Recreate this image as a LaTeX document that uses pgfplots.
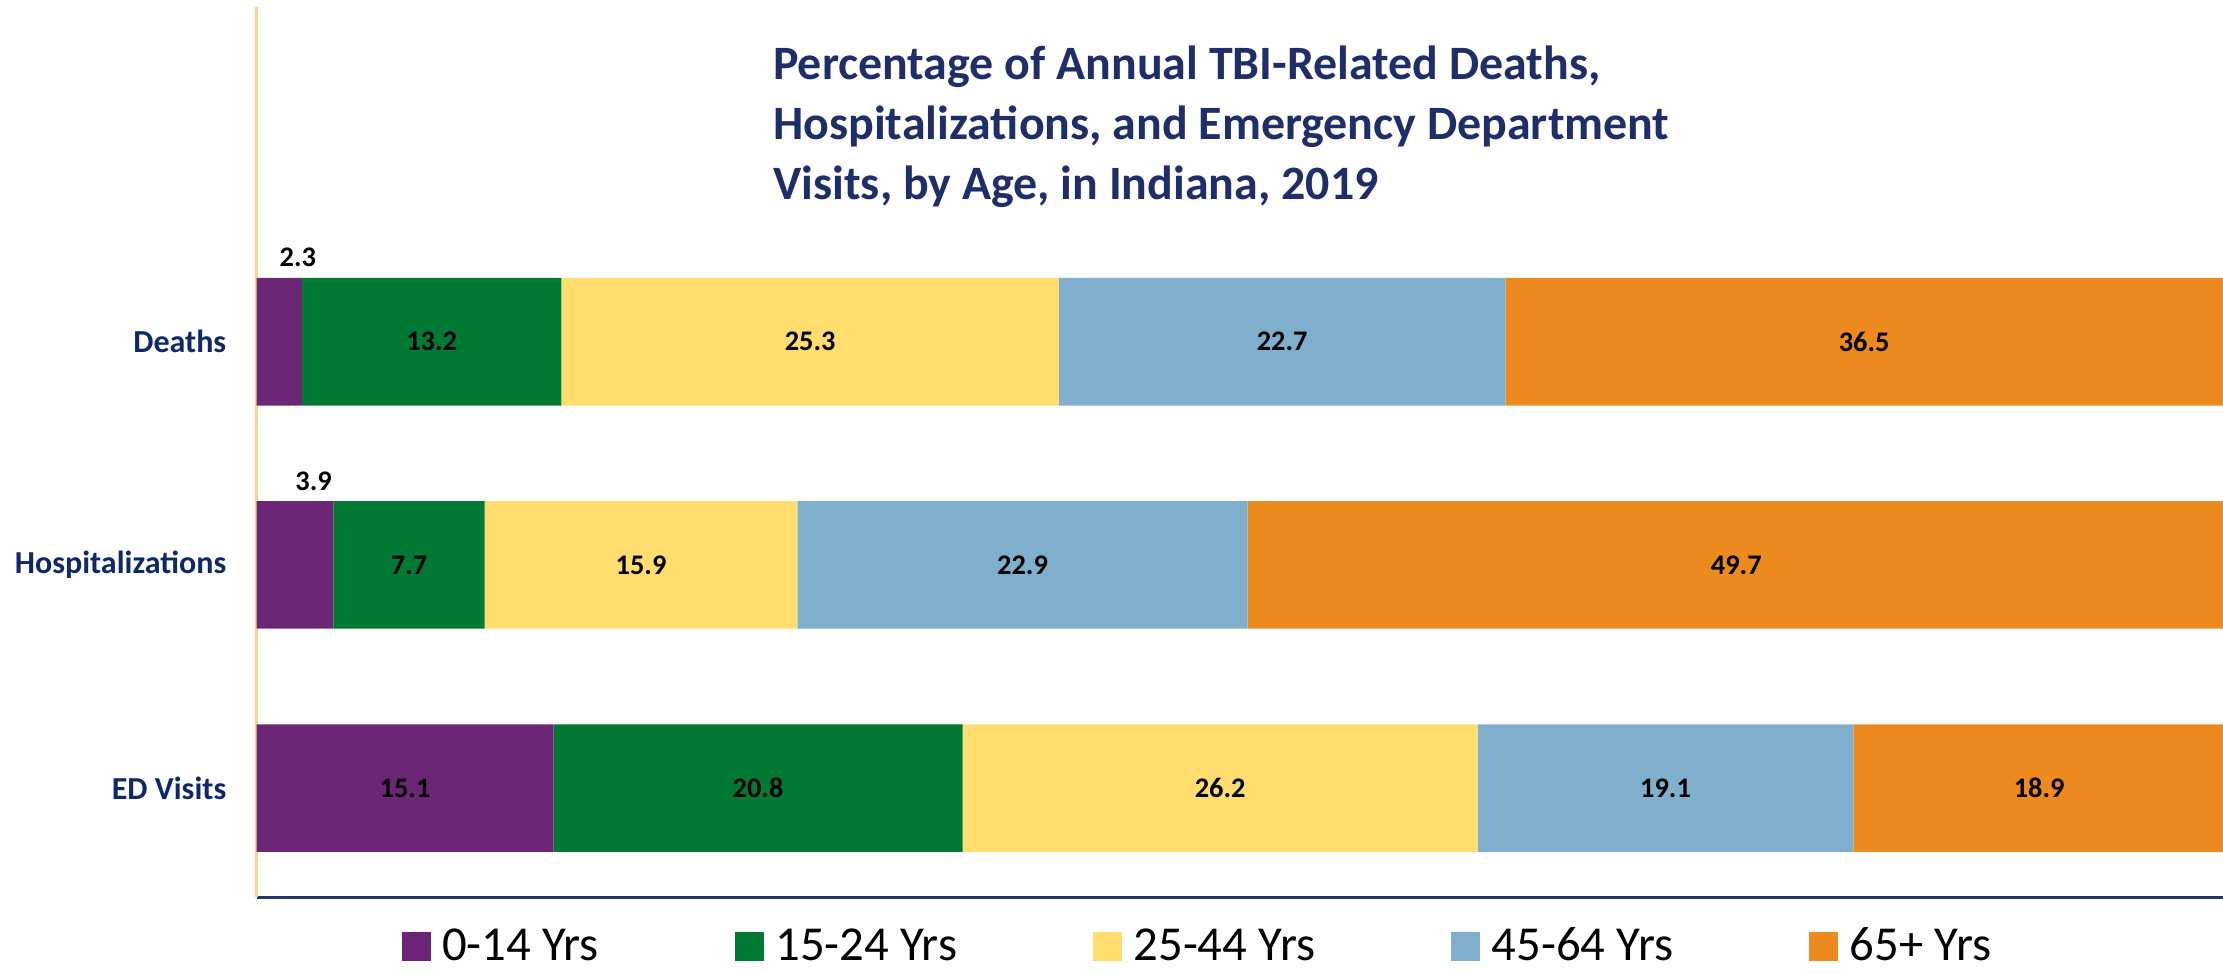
\documentclass[border=0pt]{standalone}
\usepackage{fontspec}
\setmainfont{Carlito}
\usepackage{pgfplots}
\usepackage{pgfplotstable}
\pgfplotsset{compat=1.18}

\definecolor{agea}{HTML}{6B2675}
\definecolor{ageb}{HTML}{007934}
\definecolor{agec}{HTML}{FFDD6E}
\definecolor{aged}{HTML}{7FAFCC}
\definecolor{agee}{HTML}{EC891F}
\definecolor{titlenavy}{HTML}{1F2D69}
\definecolor{catnavy}{HTML}{0E2868}
\definecolor{baseline}{HTML}{203864}
\definecolor{yline}{HTML}{FBD38E}

% cat: 0 = ED Visits, 1 = Hospitalizations, 2 = Deaths
\pgfplotstableread{
cat a    b    c    d    e
0   15.1 20.8 26.2 19.1 18.9
1   3.9  7.7  15.9 22.9 49.7
2   2.3  13.2 25.3 22.7 36.5
}\agedata

\pgfplotsset{
  sqlegend/.style={legend image code/.code={\fill[##1] (0pt,-5.1pt) rectangle (10.25pt,5.1pt);}},
  samebox/.style={scale only axis, width=693.5pt, height=314pt,
    xmin=0, xmax=100, ymin=-0.49, ymax=3.5},
}

\begin{document}
\begin{tikzpicture}
  \path[use as bounding box] (-90.5pt,-26.5pt) rectangle (693.5pt,316.5pt);
  \begin{axis}[
    samebox,
    xbar stacked,
    bar width=45pt,
    axis x line*=bottom,
    axis y line*=left,
    x axis line style={draw=baseline, line width=1.3pt, -},
    y axis line style={draw=yline, line width=0.8pt, -},
    xtick=\empty,
    ytick={0,1,2},
    yticklabels={ED Visits,Hospitalizations,Deaths},
    major tick length=0pt,
    yticklabel style={font=\bfseries\fontsize{11.3}{13}\selectfont,
      text=catnavy, inner sep=0pt, xshift=-10.5pt},
    legend columns=5,
    legend style={draw=none, fill=none, inner xsep=0pt, inner ysep=0pt,
      at={(axis description cs:0.0735,-0.055)}, anchor=west,
      font=\fontsize{17.2}{20}\selectfont,
      /tikz/every odd column/.append style={column sep=2pt},
      /tikz/every even column/.append style={column sep=46pt}},
  ]
    \addplot[fill=agea, draw=none, sqlegend] table[x=a, y=cat] {\agedata};
    \addplot[fill=ageb, draw=none, sqlegend] table[x=b, y=cat] {\agedata};
    \addplot[fill=agec, draw=none, sqlegend] table[x=c, y=cat] {\agedata};
    \addplot[fill=aged, draw=none, sqlegend] table[x=d, y=cat] {\agedata};
    \addplot[fill=agee, draw=none, sqlegend] table[x=e, y=cat] {\agedata};
    \legend{0-14 Yrs,15-24 Yrs,25-44 Yrs,45-64 Yrs,65+ Yrs}
  \end{axis}
  % value labels, centred on each segment (small ones sit above the bar)
  \begin{axis}[
    samebox, hide axis,
    point meta=explicit symbolic,
    nodes near coords={\pgfplotspointmeta},
    every node near coord/.style={anchor=center, text=black,
      font=\bfseries\fontsize{10}{12}\selectfont},
  ]
    \addplot[draw=none] table[x expr={\thisrow{a}/2+(\thisrow{a}<5)*0.95},
      y expr={\thisrow{cat}+(\thisrow{a}<5)*0.377}, meta=a] {\agedata};
    \addplot[draw=none] table[x expr=\thisrow{a}+\thisrow{b}/2, y=cat, meta=b] {\agedata};
    \addplot[draw=none] table[x expr=\thisrow{a}+\thisrow{b}+\thisrow{c}/2, y=cat, meta=c] {\agedata};
    \addplot[draw=none] table[x expr=\thisrow{a}+\thisrow{b}+\thisrow{c}+\thisrow{d}/2, y=cat, meta=d] {\agedata};
    \addplot[draw=none] table[x expr=\thisrow{a}+\thisrow{b}+\thisrow{c}+\thisrow{d}+\thisrow{e}/2, y=cat, meta=e] {\agedata};
  \end{axis}
  \begin{scope}[every node/.style={anchor=base west, inner sep=0pt,
      text=titlenavy, font=\bfseries\fontsize{16.9}{20}\selectfont}]
    \node at (182pt,288.5pt) {Percentage of Annual TBI-Related Deaths,};
    \node at (182pt,267.25pt) {Hospitalizations, and Emergency Department};
    \node at (182pt,246pt) {Visits, by Age, in Indiana, 2019};
  \end{scope}
\end{tikzpicture}
\end{document}
